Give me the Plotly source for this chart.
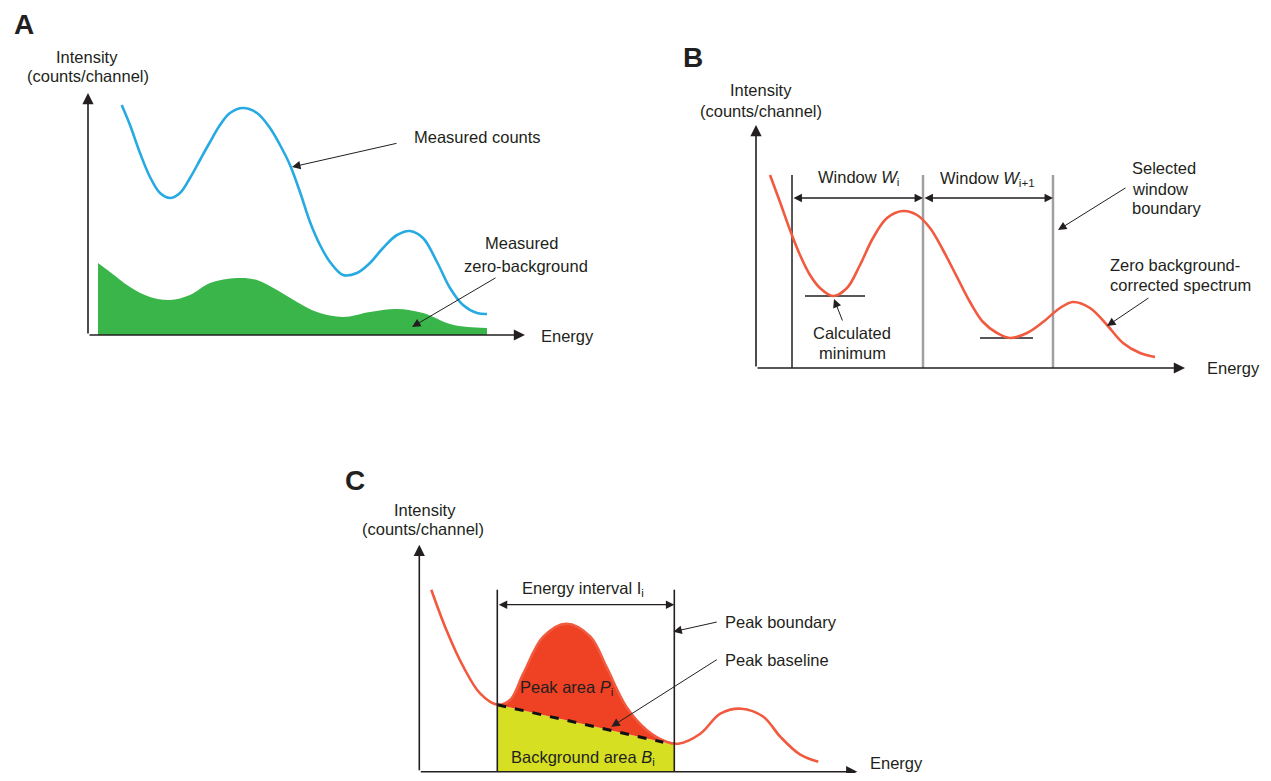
import plotly.graph_objects as go

# ---------------- data (arbitrary energy / intensity units) ----------------
# Panel A
a_energy = [33.7, 42, 52, 62, 72, 82, 92, 102, 112, 122, 132, 142, 155, 169, 182, 192,
            202, 212, 222, 232, 242, 255, 269, 282, 295, 309, 322, 335, 349, 362, 375,
            389, 399]
a_counts = [230, 210, 182, 158, 142, 137, 142, 157, 175, 193, 210, 222, 227, 222, 207, 190,
            170, 143, 113, 90, 73, 60, 62, 72, 87, 100, 104, 97, 73, 47, 30,
            22, 21]
a_bg_energy = [10, 22, 42, 62, 82, 102, 122, 149, 169, 189, 209, 229, 255, 282, 309,
               335, 362, 380, 399]
a_bg_counts = [72, 63, 48, 38, 35, 40, 52, 57, 55, 45, 33, 23, 18, 23, 26,
               22, 11, 8, 7]

# Panel B
b_energy = [14, 24, 34, 44, 54, 64, 77, 91, 104, 117, 131, 147, 161, 174, 187, 201,
            214, 227, 241, 254, 271, 287, 304, 317, 334, 351, 367, 384, 399]
b_counts = [193, 166, 138, 113, 93, 80, 72, 80, 103, 130, 150, 157, 153, 140, 118, 91,
            66, 46, 35, 30, 35, 46, 60, 66, 60, 43, 25, 15, 11]
b_bounds = [36, 167, 297]
b_bound_top = 193
b_min_x = [[49, 109], [224, 277]]
b_min_y = [72, 30]

# Panel C
c_energy = [12, 27, 44, 61, 78, 91, 104, 124, 147, 171, 187, 207, 227, 247, 259,
            281, 301, 322, 344, 361, 381, 399]
c_counts = [182, 142, 105, 78, 67, 72, 98, 135, 148, 135, 105, 65, 42, 30, 28,
            38, 58, 63, 55, 35, 17, 10]
c_peak_energy = [78, 91, 104, 124, 147, 171, 187, 207, 227, 244]
c_peak_counts = [67, 72, 98, 135, 148, 135, 105, 65, 42, 31]
c_base_x = [78, 244]
c_base_y = [67, 29.5]
c_bg_x = [78, 255]
c_bg_y = [67, 27]
c_bounds = [78, 255]
c_bound_top = 182

# ---------------- layout helpers ----------------
W, H, OFF = 1271, 781, 8
FW, FH = W - 2 * OFF, H - 2 * OFF


def fx(p):
    return (p - OFF) / FW


def fy(p):
    return 1 - (p - OFF) / FH


BLUE = "#27AAE1"
GREEN = "#39B54A"
RED = "#F15A3F"
REDFILL = "#EF4123"
YELLOW = "#D7DF23"
TXT = "#231F20"
GRAY = "#A0A0A0"
FONT = "Arial"
FS = 16.5

fig = go.Figure()
ann = []

# panel frames: origin pixel (ox, oy) and visible unit extents (1 unit = 1 px)
panels = {
    "": dict(ox=88, oy=335, xr=(-80, 540), yr=(-15, 300)),
    "2": dict(ox=756, oy=368, xr=(-80, 500), yr=(-15, 300)),
    "3": dict(ox=419.3, oy=771.7, xr=(-80, 520), yr=(-1, 290)),
}
for k, p in panels.items():
    fig.layout["xaxis" + k] = dict(domain=[fx(p["ox"] + p["xr"][0]), fx(p["ox"] + p["xr"][1])],
                                   range=list(p["xr"]), visible=False, anchor="y" + k,
                                   fixedrange=True)
    fig.layout["yaxis" + k] = dict(domain=[fy(p["oy"] - p["yr"][0]), fy(p["oy"] - p["yr"][1])],
                                   range=list(p["yr"]), visible=False, anchor="x" + k,
                                   fixedrange=True)


def line(xs, ys, ax, color=TXT, width=1.5, dash=None, shape="linear", **kw):
    fig.add_trace(go.Scatter(x=xs, y=ys, mode="lines", xaxis="x" + ax, yaxis="y" + ax,
                             line=dict(color=color, width=width, dash=dash, shape=shape,
                                       smoothing=1.0),
                             hoverinfo="skip", showlegend=False, **kw))


def arrow(ax_, x, y, tx, ty, head=2, size=1.7, width=1.0, side="end", color=TXT):
    ann.append(dict(xref="x" + ax_, yref="y" + ax_, axref="x" + ax_, ayref="y" + ax_,
                    x=x, y=y, ax=tx, ay=ty, text="", showarrow=True,
                    arrowhead=head, startarrowhead=head, arrowsize=size,
                    startarrowsize=size, arrowwidth=width, arrowside=side,
                    arrowcolor=color, standoff=0, startstandoff=0))


def text(ax_, x, y, s, xanchor="center", size=FS, **kw):
    ann.append(dict(xref="x" + ax_, yref="y" + ax_, x=x, y=y, text=s, showarrow=False,
                    xanchor=xanchor, yanchor="middle",
                    font=dict(family=FONT, size=size, color=TXT), **kw))


def axes(ax_, xlen, ylen):
    arrow(ax_, xlen, 0, 0, 0, head=2, size=1.4, width=1.6)
    arrow(ax_, 0, ylen, 0, 0, head=2, size=1.4, width=1.6)


# ---------------- Panel A ----------------
line(a_bg_energy, a_bg_counts, "", color=GREEN, width=0, shape="spline",
     fill="tozeroy", fillcolor=GREEN)
line(a_energy, a_counts, "", color=BLUE, width=2.6, shape="spline")
axes("", 437, 242)
text("", -1, 278, "Intensity")
text("", 0, 259, "(counts/channel)")
text("", 451, -1, "Energy", xanchor="left")
text("", 324, 198, "Measured counts", xanchor="left")
arrow("", 204, 168, 310, 192)
text("", 395, 92, "Measured", xanchor="left")
text("", 374, 69, "zero-background", xanchor="left")
arrow("", 324, 8, 409, 58)

# ---------------- Panel B ----------------
for i, bx in enumerate(b_bounds):
    line([bx, bx], [0, b_bound_top], "2", color=TXT if i == 0 else GRAY,
         width=1.5 if i == 0 else 2.5)
for mx, my in zip(b_min_x, b_min_y):
    line(mx, [my, my], "2", width=1.5)
line(b_energy, b_counts, "2", color=RED, width=2.6, shape="spline")
axes("2", 429, 243)
arrow("2", b_bounds[1], 170, b_bounds[0], 170, side="end+start", size=1.3, width=1.3)
arrow("2", b_bounds[2], 170, b_bounds[1], 170, side="end+start", size=1.3, width=1.3)
text("2", 102, 190, "Window <i>W</i><sub>i</sub>")
text("2", 231, 189, "Window <i>W</i><sub>i+1</sub>")
text("2", 5, 278, "Intensity")
text("2", 5, 257, "(counts/channel)")
text("2", 449, 0, "Energy", xanchor="left")
text("2", 96, 35, "Calculated")
text("2", 96, 15, "minimum")
arrow("2", 78, 69, 87, 46)
text("2", 374, 200, "Selected", xanchor="left")
text("2", 374, 179, "window", xanchor="left")
text("2", 374, 160, "boundary", xanchor="left")
arrow("2", 302, 138, 371, 181)
text("2", 352, 103, "Zero background-", xanchor="left")
text("2", 352, 83, "corrected spectrum", xanchor="left")
arrow("2", 351, 42, 394, 71)

# ---------------- Panel C ----------------
line(c_bg_x, c_bg_y, "3", color=YELLOW, width=0, fill="tozeroy", fillcolor=YELLOW)
line(c_base_x, c_base_y, "3", color=REDFILL, width=0)
line(c_peak_energy, c_peak_counts, "3", color=REDFILL, width=0, shape="spline",
     fill="tonexty", fillcolor=REDFILL)
line(c_energy, c_counts, "3", color=RED, width=2.6, shape="spline")
line(c_base_x, c_base_y, "3", color="#111111", width=3, dash="dash")
for bx in c_bounds:
    line([bx, bx], [0, c_bound_top], "3", width=1.6)
axes("3", 438, 227)
arrow("3", c_bounds[1], 167, c_bounds[0], 167, side="end+start", size=1.3, width=1.3)
text("3", 164, 183, "Energy interval I<sub>i</sub>")
text("3", 6, 262, "Intensity")
text("3", 4, 243, "(counts/channel)")
text("3", 449, 9, "Energy", xanchor="left")
text("3", 304, 150, "Peak boundary", xanchor="left")
arrow("3", 254, 140, 299, 150)
text("3", 304, 112, "Peak baseline", xanchor="left")
arrow("3", 192, 45, 299, 113)
text("3", 147, 84, "Peak area <i>P</i><sub>i</sub>")
text("3", 164, 14, "Background area <i>B</i><sub>i</sub>")

# panel letters
for lab, px, py in [("A", 24, 24), ("B", 693, 58), ("C", 355, 480)]:
    ann.append(dict(xref="paper", yref="paper", x=fx(px), y=fy(py), text="<b>%s</b>" % lab,
                    showarrow=False, xanchor="center", yanchor="middle",
                    font=dict(family=FONT, size=28, color=TXT)))

fig.update_layout(width=FW, height=FH, autosize=False,
                  margin=dict(l=0, r=0, t=0, b=0),
                  paper_bgcolor="white", plot_bgcolor="white",
                  annotations=ann, showlegend=False)

fig.write_html("out.html")
